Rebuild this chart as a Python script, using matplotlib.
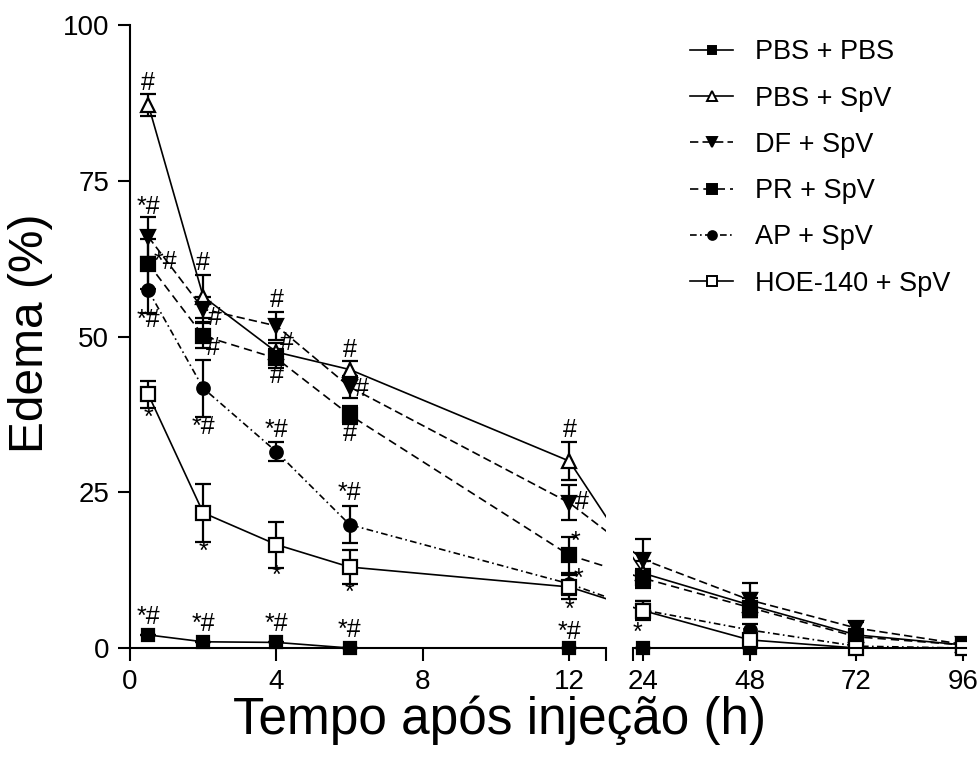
import numpy as np
import matplotlib
matplotlib.use('Agg')
import matplotlib.pyplot as plt
from matplotlib.lines import Line2D

plt.rcParams['font.family'] = ['Liberation Sans', 'DejaVu Sans']

# time points (h) and edema (%) per group
hours = [0.5, 2, 4, 6, 12, 24, 48, 72, 96]
pbs_pbs = [2.1, 1.0, 0.9, 0, 0, 0, 0, 0, 0]
pbs_pbs_err = [0, 0, 0, 0, 0, 0, 0, 0, 0]
pbs_spv = [87.2, 56.4, 47.5, 44.7, 30.0, 12.0, 6.9, 2.1, 0.5]
pbs_spv_err = [1.8, 3.4, 1.5, 1.3, 3.1, 2.0, 2.0, 1.0, 0.3]
df_spv = [66.0, 54.4, 51.7, 41.9, 23.3, 14.2, 7.7, 3.2, 0.6]
df_spv_err = [3.2, 2.0, 2.2, 1.8, 2.8, 3.3, 2.7, 1.0, 0.3]
pr_spv = [61.7, 50.1, 46.5, 37.4, 14.9, 11.2, 6.5, 1.8, 0.5]
pr_spv_err = [4.0, 2.0, 1.5, 1.5, 3.0, 1.5, 1.5, 1.0, 0.3]
ap_spv = [57.4, 41.7, 31.5, 19.8, 10.3, 6.1, 2.9, 0.3, 0]
ap_spv_err = [3.6, 4.6, 1.5, 3.0, 1.8, 1.5, 1.0, 0.3, 0]
hoe_spv = [40.7, 21.7, 16.6, 13.0, 9.8, 6.0, 1.3, 0, 0]
hoe_spv_err = [2.2, 4.7, 3.7, 2.8, 2.0, 1.5, 1.0, 0, 0]

labels = ['PBS + PBS', 'PBS + SpV', 'DF + SpV', 'PR + SpV', 'AP + SpV', 'HOE-140 + SpV']

# significance marks: (hour, dx in h, y, text)
marks = [
    (0.5, 0, 90.7, '#'), (0.5, 0, 70.8, '*#'), (0.5, 0.47, 62.0, '*#'),
    (0.5, 0, 52.6, '*#'), (0.5, 0, 36.9, '*'), (0.5, 0, 5.0, '*#'),
    (2, 0, 61.8, '#'), (2, 0.32, 53.0, '#'), (2, 0.27, 48.2, '#'),
    (2, 0, 35.5, '*#'), (2, 0, 15.4, '*'), (2, 0, 3.9, '*#'),
    (4, 0, 55.9, '#'), (4, 0.29, 49.0, '#'), (4, 0, 43.7, '#'),
    (4, 0, 35.0, '*#'), (4, 0, 11.6, '*'), (4, 0, 3.9, '*#'),
    (6, 0, 47.8, '#'), (6, 0.34, 41.6, '#'), (6, 0, 34.3, '#'),
    (6, 0, 24.9, '*#'), (6, 0, 8.8, '*'), (6, 0, 2.9, '*#'),
    (12, 0, 35.0, '#'), (12, 0.35, 23.4, '#'), (12, 0.16, 17.0, '*'),
    (12, 0.24, 11.1, '*'), (12, 0, 6.1, '*'), (12, 0, 2.6, '*#'),
    (24, -0.17, 2.4, '*'),
]


def to_u(h):
    # broken axis: linear up to 13 h, then 24 h steps squeezed
    h = np.asarray(h, dtype=float)
    return np.where(h <= 13, h, 14.02 + (h - 24) / 24 * 2.913)


fig = plt.figure(figsize=(9.8, 7.69), dpi=100)
ax1 = fig.add_axes([130 / 980, 105.4 / 769, 476 / 980, 638.6 / 769])
ax2 = fig.add_axes([633 / 980, 105.4 / 769, 333 / 980, 638.6 / 769])

series = [
    (pbs_pbs, pbs_pbs_err, dict(marker='s', mfc='black', ms=9, ls='-')),
    (pbs_spv, pbs_spv_err, dict(marker='^', mfc='white', ms=10, ls='-')),
    (df_spv, df_spv_err, dict(marker='v', mfc='black', ms=10, ls=(0, (5, 2.5)))),
    (pr_spv, pr_spv_err, dict(marker='s', mfc='black', ms=10, ls=(0, (5, 3)))),
    (ap_spv, ap_spv_err, dict(marker='o', mfc='black', ms=9, ls=(0, (4, 2, 1, 2)))),
    (hoe_spv, hoe_spv_err, dict(marker='s', mfc='white', ms=10, ls='-')),
]

x = to_u(hours)
for ax in (ax1, ax2):
    for vals, err, st in series:
        ax.errorbar(x, vals, yerr=err, color='black', lw=1.2, elinewidth=1.6,
                    capsize=6, capthick=1.6, mec='black', mew=1.6, **st)
    ax.set_ylim(-2.5, 100)
    for s in ('top', 'right'):
        ax.spines[s].set_visible(False)
    ax.spines['bottom'].set_position(('data', 0))
    ax.spines['bottom'].set_linewidth(1.5)
    ax.tick_params(axis='both', direction='out', length=9, width=1.5,
                   labelsize=20, pad=6)

ax1.set_xlim(0, 13)
ax1.spines['left'].set_bounds(0, 100)
ax1.spines['left'].set_linewidth(1.5)
ax1.set_yticks([0, 25, 50, 75, 100])
ax1.set_xticks([0, 4, 8, 12, 13])
ax1.set_xticklabels(['0', '4', '8', '12', ''])

ax2.set_xlim(13.74, 22.84)
ax2.spines['left'].set_visible(False)
ax2.set_yticks([])
ax2.set_xticks(list(to_u([24, 48, 72, 96])) + [13.74])
ax2.set_xticklabels(['24', '48', '72', '96', ''])

for h, dx, y, t in marks:
    u = float(to_u(h)) + dx
    ax = ax1 if u <= 13 else ax2
    ax.text(u, y, t, ha='center', va='center', fontsize=18, clip_on=False)

fig.text(31 / 980, 1 - 333 / 769, 'Edema (%)', rotation=90, fontsize=34.5,
         ha='center', va='center')
fig.text(499 / 980, 1 - 720 / 769, 'Tempo após injeção (h)', fontsize=37,
         ha='center', va='center')

handles = [Line2D([], [], color='black', lw=1.2, mec='black', mew=1.4,
                  **{**st, 'ms': st['ms'] * 0.7}) for _, _, st in series]
fig.legend(handles, labels, loc='upper left', bbox_to_anchor=(690 / 980, 0.949),
           frameon=False, fontsize=19.5, handlelength=1.6, handletextpad=0.8,
           labelspacing=0.75, borderpad=0, borderaxespad=0)

fig.savefig('out.png', dpi=100)
